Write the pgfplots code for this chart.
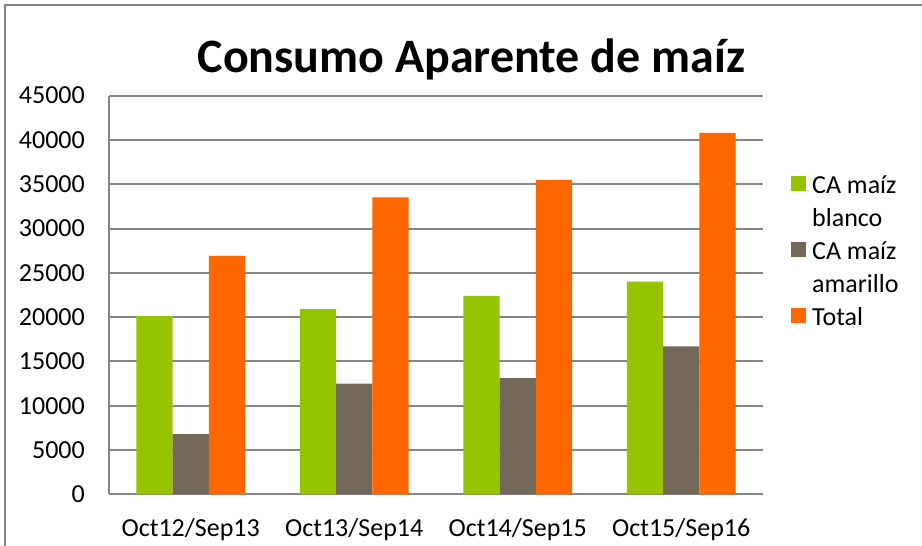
\documentclass[border=0pt]{standalone}
\usepackage{pgfplots}
\pgfplotsset{compat=1.18}
\usepackage{fontspec}
\setmainfont{Carlito}
\definecolor{cgreen}{HTML}{96C400}
\definecolor{cbrown}{HTML}{73695A}
\definecolor{corange}{HTML}{FF6600}
\definecolor{cgrid}{HTML}{868686}
\begin{document}
\begin{tikzpicture}
\useasboundingbox (0pt,0pt) rectangle (922pt,-546pt);
\draw[cgrid, line width=2pt] (5pt,-546pt) -- (5pt,-5pt) -- (922pt,-5pt);
\node[font=\bfseries\fontsize{48}{58}\selectfont, anchor=base] at (471.5pt,-72pt) {Consumo Aparente de maíz};
\begin{axis}[
  at={(109pt,-494.3pt)}, anchor=south west,
  width=654pt, height=398.7pt, scale only axis,
  xmin=-0.5, xmax=3.5, ymin=0, ymax=45000,
  ytick={0,5000,...,45000},
  xtick={0,1,2,3},
  xticklabels={Oct12/Sep13,Oct13/Sep14,Oct14/Sep15,Oct15/Sep16},
  scaled y ticks=false,
  /pgf/number format/assume math mode=true,
  /pgf/number format/set thousands separator={},
  font=\fontsize{26}{32}\selectfont,
  ticklabel style={font=\fontsize{26}{32}\selectfont},
  yticklabel style={inner sep=0pt, xshift=-24pt},
  xticklabel style={inner sep=0pt, anchor=base, yshift=-42.4pt},
  major tick length=0pt,
  axis x line=bottom, axis y line=left,
  axis line style={cgrid, line width=2pt, -},
  ymajorgrids, grid style={cgrid, line width=2pt},
  ybar, bar width=36.3pt,
  legend style={draw=none, fill=none, at={(1.0428,0.805)}, anchor=north west,
    inner sep=0pt, column sep=6pt, row sep=0pt,
    font=\fontsize{26}{32}\selectfont,
    nodes={inner sep=0pt, text height=20pt, text depth=13pt}},
  legend cell align=left,
]
\addplot[fill=cgreen, draw=none, bar shift=-36.3pt,
  legend image code/.code={\path[fill=none,draw=none] (0pt,-14pt) rectangle (15pt,14pt); \fill[cgreen] (0pt,-1pt) rectangle (15pt,14pt);}]
  coordinates {(0,20100) (1,20900) (2,22400) (3,24000)};
\addlegendentry{CA maíz}
\addlegendimage{legend image code/.code={}}
\addlegendentry{blanco}
\addplot[fill=cbrown, draw=none, bar shift=0pt,
  legend image code/.code={\path[fill=none,draw=none] (0pt,-14pt) rectangle (15pt,14pt); \fill[cbrown] (0pt,-1pt) rectangle (15pt,14pt);}]
  coordinates {(0,6800) (1,12500) (2,13100) (3,16700)};
\addlegendentry{CA maíz}
\addlegendimage{legend image code/.code={}}
\addlegendentry{amarillo}
\addplot[fill=corange, draw=none, bar shift=36.3pt,
  legend image code/.code={\path[fill=none,draw=none] (0pt,-14pt) rectangle (15pt,14pt); \fill[corange] (0pt,-1pt) rectangle (15pt,14pt);}]
  coordinates {(0,26900) (1,33500) (2,35500) (3,40800)};
\addlegendentry{Total}
\end{axis}
\end{tikzpicture}
\end{document}
